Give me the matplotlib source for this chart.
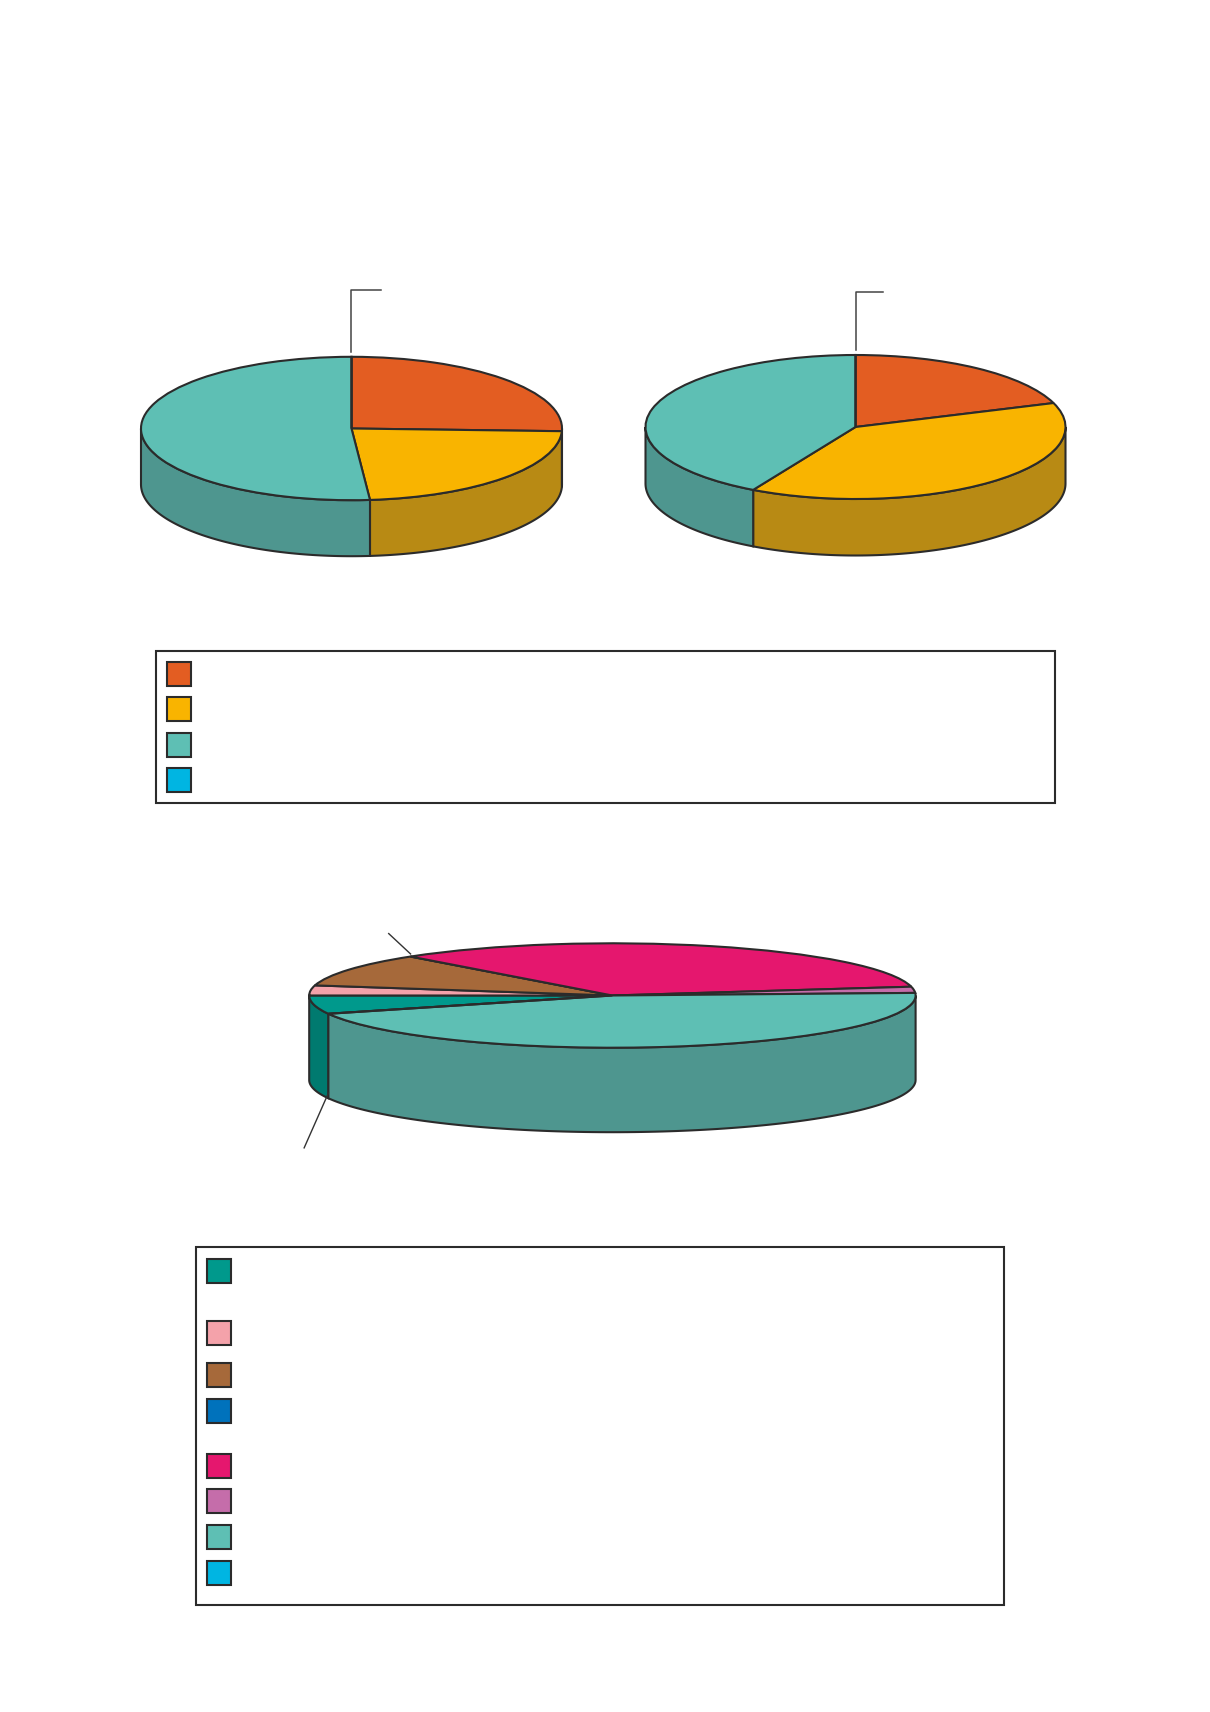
import matplotlib
matplotlib.use("Agg")
import matplotlib.pyplot as plt
import numpy as np
from matplotlib.patches import Polygon, Rectangle

W, H = 1210, 1712
EDGE = "#2b2b2b"
LW = 1.5

# top pies (percent shares)
top_colors = ["#E35D22", "#F9B400", "#5EBFB4", "#00B5E2"]
top_side_colors = ["#A8451A", "#B88A14", "#4E968F", "#0086A8"]
left_values = [25.6, 23.0, 51.4, 0.0]
right_values = [19.6, 38.5, 41.9, 0.0]

# bottom pie
bottom_colors = ["#00998C", "#F4A2AA", "#A6693A", "#0072BC",
                 "#E5176E", "#C56DAA", "#5EBFB4", "#00B5E2"]
bottom_side_colors = ["#007A6F", "#B8787E", "#7A4D2A", "#00548A",
                      "#A81050", "#925080", "#4E968F", "#0086A8"]
bottom_values = [5.7, 3.1, 10.3, 0.0, 33.9, 1.9, 45.1, 0.0]

# legend entry rows (pixel centres)
legend1_rows = [673.6, 709.1, 744.6, 780.1]
legend2_rows = [1270.5, 1333.0, 1375.0, 1410.7, 1466.0, 1501.0, 1537.0, 1573.0]


def pie_axes(fig, cx, cy, rx, ry, xlim=(-1.4, 1.4), ylim=(-3.4, 2.4)):
    left = (cx + rx * xlim[0]) / W
    width = rx * (xlim[1] - xlim[0]) / W
    top_px = cy - ry * ylim[1]
    height_px = ry * (ylim[1] - ylim[0])
    bottom = 1 - (top_px + height_px) / H
    ax = fig.add_axes([left, bottom, width, height_px / H])
    return ax, xlim, ylim


def draw_sides(ax, wedges, side_colors, depth):
    for w, col in zip(wedges, side_colors):
        for k in (-360, 0, 360):
            lo = max(w.theta1, 180 + k)
            hi = min(w.theta2, 360 + k)
            if hi - lo <= 0:
                continue
            t = np.radians(np.linspace(lo, hi, 120))
            xs = np.concatenate([np.cos(t), np.cos(t[::-1])])
            ys = np.concatenate([np.sin(t), np.sin(t[::-1]) - depth])
            ax.add_patch(Polygon(np.column_stack([xs, ys]), closed=True,
                                 facecolor=col, edgecolor=EDGE, lw=LW,
                                 zorder=0.5))


def pie3d(fig, values, colors, side_colors, cx, cy, rx, ry, depth_px,
          startangle):
    ax, xlim, ylim = pie_axes(fig, cx, cy, rx, ry)
    wedges, _ = ax.pie(values, colors=colors, startangle=startangle,
                       counterclock=False, radius=1,
                       wedgeprops=dict(edgecolor=EDGE, linewidth=LW))
    draw_sides(ax, wedges, side_colors, depth_px / ry)
    ax.set_aspect("auto")
    ax.set_xlim(xlim)
    ax.set_ylim(ylim)
    ax.axis("off")
    return ax


fig = plt.figure(figsize=(W / 100, H / 100), dpi=100)
fig.patch.set_facecolor("white")

# top-left pie
ax1 = pie3d(fig, left_values, top_colors, top_side_colors,
            351.5, 428.5, 210.5, 71.7, 56, 90)
x0 = np.cos(np.radians(90))
ax1.plot([x0, x0, x0 + 0.14], [1.07, 1.93, 1.93], color="#444444", lw=1.1)

# top-right pie
ax2 = pie3d(fig, right_values, top_colors, top_side_colors,
            855.5, 427.0, 210.0, 72.0, 56.5, 90)
ax2.plot([x0, x0, x0 + 0.13], [1.07, 1.88, 1.88], color="#444444", lw=1.1)

# bottom pie
start_b = 200.5
depth_px_b = 84.5
ax3 = pie3d(fig, bottom_values, bottom_colors, bottom_side_colors,
            612.4, 995.5, 303.2, 52.2, depth_px_b, start_b)
depth_b = depth_px_b / 52.2
# leader to brown / magenta boundary
ang = start_b - 360 * sum(bottom_values[:3]) / sum(bottom_values)
ca, sa = np.cos(np.radians(ang)), np.sin(np.radians(ang))
ax3.plot([ca, ca - 0.072], [sa + 0.05, sa + 0.44], color="#333333", lw=1.0)
# leader from dark teal side
cb, sb = np.cos(np.radians(start_b)), np.sin(np.radians(start_b))
ax3.plot([cb, cb - 0.08], [sb - depth_b + 0.1, sb - depth_b - 0.95],
         color="#333333", lw=1.0)

# legend boxes (no visible labels in the source)
lax = fig.add_axes([0, 0, 1, 1])
lax.set_xlim(0, W)
lax.set_ylim(H, 0)
lax.axis("off")

lax.add_patch(Rectangle((156.4, 651), 1054.5 - 156.4, 803 - 651,
                        facecolor="none", edgecolor=EDGE, lw=1.5))
for yc, col in zip(legend1_rows, top_colors):
    lax.add_patch(Rectangle((166.7, yc - 12), 24, 24, facecolor=col,
                            edgecolor=EDGE, lw=1.5))

lax.add_patch(Rectangle((195.5, 1247.3), 1004 - 195.5, 1605 - 1247.3,
                        facecolor="none", edgecolor=EDGE, lw=1.5))
for yc, col in zip(legend2_rows, bottom_colors):
    lax.add_patch(Rectangle((206.7, yc - 12), 24, 24, facecolor=col,
                            edgecolor=EDGE, lw=1.5))

fig.savefig("out.png", dpi=100, facecolor="white")
